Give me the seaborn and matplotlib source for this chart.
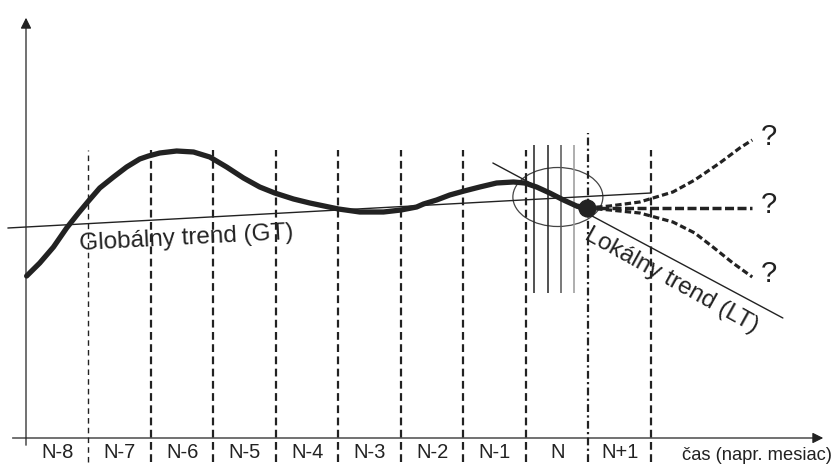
import numpy as np
import pandas as pd
import seaborn as sns
import matplotlib.pyplot as plt
from matplotlib.patches import Ellipse

# time axis: one unit = one period, 0 = origin of the diagram
periods = ["N-8", "N-7", "N-6", "N-5", "N-4", "N-3", "N-2", "N-1", "N", "N+1"]

obs_t = [0.01, 0.22, 0.44, 0.65, 0.84, 1.00, 1.18, 1.40, 1.61, 1.82, 1.96, 2.14,
         2.41, 2.68, 2.94, 3.21, 3.48, 3.74, 3.98, 4.28, 4.54, 5.00, 5.34, 5.72,
         6.00, 6.25, 6.36, 6.57, 6.78, 7.01, 7.26, 7.53, 7.80, 7.98, 8.17, 8.38,
         8.60, 8.81, 8.97]
obs_v = [16.2, 17.5, 19.1, 21.0, 22.5, 23.7, 25.0, 26.1, 27.1, 27.9, 28.2, 28.5,
         28.7, 28.6, 28.1, 27.1, 26.0, 25.1, 24.5, 23.9, 23.5, 22.9, 22.6, 22.6,
         22.8, 23.1, 23.4, 23.8, 24.3, 24.7, 25.1, 25.5, 25.6, 25.5, 25.1, 24.5,
         23.8, 23.2, 23.0]

# possible continuations after N
up_t = [8.97, 9.34, 9.82, 10.35, 10.70, 11.10, 11.42, 11.62]
up_v = [23.0, 23.2, 23.6, 24.6, 25.8, 27.5, 29.0, 29.8]
flat_t = [8.97, 11.62]
flat_v = [23.0, 23.0]
down_t = [8.97, 9.34, 9.82, 10.35, 10.70, 10.99, 11.31, 11.62]
down_v = [23.0, 22.8, 22.5, 21.6, 20.5, 19.1, 17.5, 16.1]

# trends
gt_t = [-0.29, 10.0]
gt_v = [21.0, 24.5]
lt_t = [7.47, 12.11]
lt_v = [27.5, 12.0]

# hatching inside period N
hatch_t = [8.13, 8.35, 8.56, 8.77]
hatch_c = ["#222222", "#222222", "#555555", "#999999"]

sns.set_style("white")
plt.rcParams["font.family"] = ["Liberation Sans", "DejaVu Sans"]

fig = plt.figure(figsize=(8.33, 4.66), dpi=100)
ax = fig.add_axes([0, 0, 1, 1])
ax.set_xlim(-0.416, 12.912)
ax.set_ylim(-2.8, 43.8)
ax.axis("off")

ink = "#222222"

# period separators
for k in range(1, 11):
    top = 30.5 if k == 9 else 28.8
    if k == 1:
        ls, lw = (0, (4, 3)), 1.0
    elif k == 9:
        ls, lw = (0, (3.5, 1.5, 1, 1.5)), 1.6
    else:
        ls, lw = (0, (3.5, 2)), 1.6
    ax.vlines(k, -2.4, top, colors=ink, linestyles=ls, linewidth=lw)

for t, c in zip(hatch_t, hatch_c):
    ax.vlines(t, 14.5, 29.3, colors=c, linewidth=1.1)

# axes with arrows
ax.annotate("", xy=(12.8, 0), xytext=(-0.26, 0),
            arrowprops=dict(arrowstyle="-|>", lw=0.9, color=ink, mutation_scale=16))
ax.annotate("", xy=(0, 42.3), xytext=(0, -1.0),
            arrowprops=dict(arrowstyle="-|>", lw=0.9, color=ink, mutation_scale=16))

# trend lines
sns.lineplot(x=gt_t, y=gt_v, ax=ax, color=ink, linewidth=1.0, sort=False, estimator=None)
sns.lineplot(x=lt_t, y=lt_v, ax=ax, color=ink, linewidth=1.0, sort=False, estimator=None)

ax.add_patch(Ellipse((8.51, 24.1), 1.44, 5.9, fill=False, edgecolor="#444444", linewidth=0.9))

# observed curve
obs = pd.DataFrame({"t": obs_t, "v": obs_v})
sns.lineplot(data=obs, x="t", y="v", ax=ax, color=ink, linewidth=3.8, sort=False,
             estimator=None, solid_capstyle="round", solid_joinstyle="round")

# continuations
sns.lineplot(x=up_t, y=up_v, ax=ax, color=ink, linewidth=2.3, sort=False, estimator=None,
             linestyle=(0, (2, 1)))
sns.lineplot(x=down_t, y=down_v, ax=ax, color=ink, linewidth=2.3, sort=False, estimator=None,
             linestyle=(0, (2, 1)))
sns.lineplot(x=flat_t, y=flat_v, ax=ax, color=ink, linewidth=2.5, sort=False, estimator=None,
             linestyle=(0, (2.6, 1)))
ax.plot(obs_t[-1], obs_v[-1], "o", color=ink, markersize=12, zorder=5)

for v in [up_v[-1], flat_v[-1], down_v[-1]]:
    ax.text(11.88, v + 0.3, "?", fontsize=21, color=ink, ha="center", va="center")

# labels
for i, p in enumerate(periods):
    ax.text(i + 0.5, -1.4, p, fontsize=14.5, color=ink, ha="center", va="center")
ax.text(12.9, -1.8, "čas (napr. mesiac)", fontsize=13.2, color=ink, ha="right", va="center")

ax.text(2.56, 20.0, "Globálny trend (GT)", fontsize=17.5, color=ink, ha="center", va="center",
        rotation=3, rotation_mode="anchor")
ax.text(10.32, 15.7, "Lokálny trend (LT)", fontsize=17.5, color=ink, ha="center", va="center",
        rotation=-29, rotation_mode="anchor")

fig.savefig("out.png", dpi=100)
